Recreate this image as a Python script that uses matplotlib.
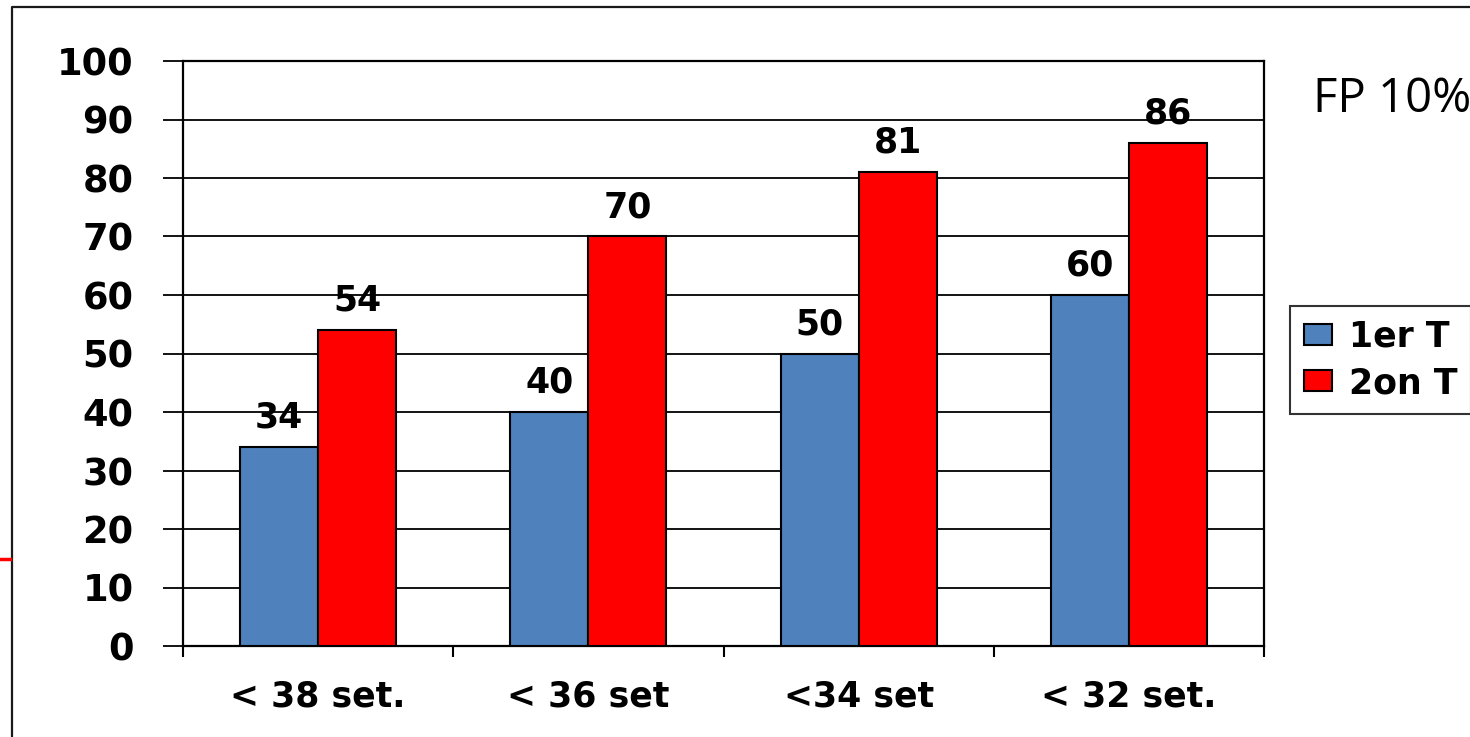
import matplotlib
matplotlib.use("Agg")
import matplotlib.pyplot as plt
from matplotlib.lines import Line2D
import numpy as np

# chart data
categories = ["< 38 set.", "< 36 set", "<34 set", "< 32 set."]
serie_1 = [34, 40, 50, 60]
serie_2 = [54, 70, 81, 86]
series_names = ["1er T", "2on T"]
yticks = [0, 10, 20, 30, 40, 50, 60, 70, 80, 90, 100]

plt.rcParams["font.family"] = "DejaVu Sans"

W, H = 1470, 737
fig = plt.figure(figsize=(W / 100, H / 100), dpi=100)
ax = fig.add_axes([183 / W, 1 - 646 / H, (1264 - 183) / W, (646 - 61) / H])

x = np.arange(len(categories))
bw = 0.289
b1 = ax.bar(x - bw / 2, serie_1, bw, color="#4F81BD", edgecolor="black",
            linewidth=1.5, label=series_names[0], zorder=3)
b2 = ax.bar(x + bw / 2, serie_2, bw, color="#FF0000", edgecolor="black",
            linewidth=1.5, label=series_names[1], zorder=3)

# value labels
for bars, vals in [(b1, serie_1), (b2, serie_2)]:
    for r, v in zip(bars, vals):
        ax.annotate(str(v), (r.get_x() + r.get_width() / 2, v),
                    xytext=(0, 14), textcoords="offset points",
                    ha="center", va="baseline", fontsize=25,
                    fontweight="bold", zorder=4)

ax.set_xlim(-0.5, len(categories) - 0.5)
ax.set_ylim(0, 100)
ax.set_yticks(yticks)
ax.set_yticklabels([str(t) for t in yticks], fontsize=26.5, fontweight="bold")
ax.yaxis.grid(True, color="black", linewidth=1.3, zorder=1)

# category boundaries as major ticks, labels on minor ticks
ax.set_xticks(np.arange(-0.5, len(categories), 1.0))
ax.set_xticklabels([])
ax.set_xticks(x, minor=True)
ax.set_xticklabels(categories, minor=True, fontsize=25, fontweight="bold")
ax.tick_params(axis="x", which="major", direction="out", length=8, width=1.5)
ax.tick_params(axis="x", which="minor", length=0, pad=24)
ax.tick_params(axis="y", direction="out", length=14.5, width=1.3, pad=21)

for s in ax.spines.values():
    s.set_linewidth(1.6)
    s.set_color("black")

leg = ax.legend(loc="upper left", bbox_to_anchor=(1290 / W, 1 - 306 / H),
                bbox_transform=fig.transFigure, fancybox=False,
                prop={"size": 25, "weight": "bold"}, handlelength=0.8,
                handleheight=0.55, handletextpad=0.5, labelspacing=0.35,
                borderpad=0.4, borderaxespad=0)
leg.get_frame().set_edgecolor("black")
leg.get_frame().set_linewidth(1.5)

fig.text(1313 / W, 1 - 112 / H, "FP 10%", fontsize=34, family="Open Sans",
         ha="left", va="baseline")

# slide frame and red mark on the left
fig.add_artist(Line2D([12 / W, 12 / W, 1.05], [-0.05, 1 - 7 / H, 1 - 7 / H],
                      transform=fig.transFigure, color="#1a1a1a", linewidth=1.6))
fig.add_artist(Line2D([0, 10 / W], [1 - 559 / H, 1 - 559 / H],
                      transform=fig.transFigure, color="red", linewidth=2.5))

fig.savefig("out.png", dpi=100, facecolor="white")
